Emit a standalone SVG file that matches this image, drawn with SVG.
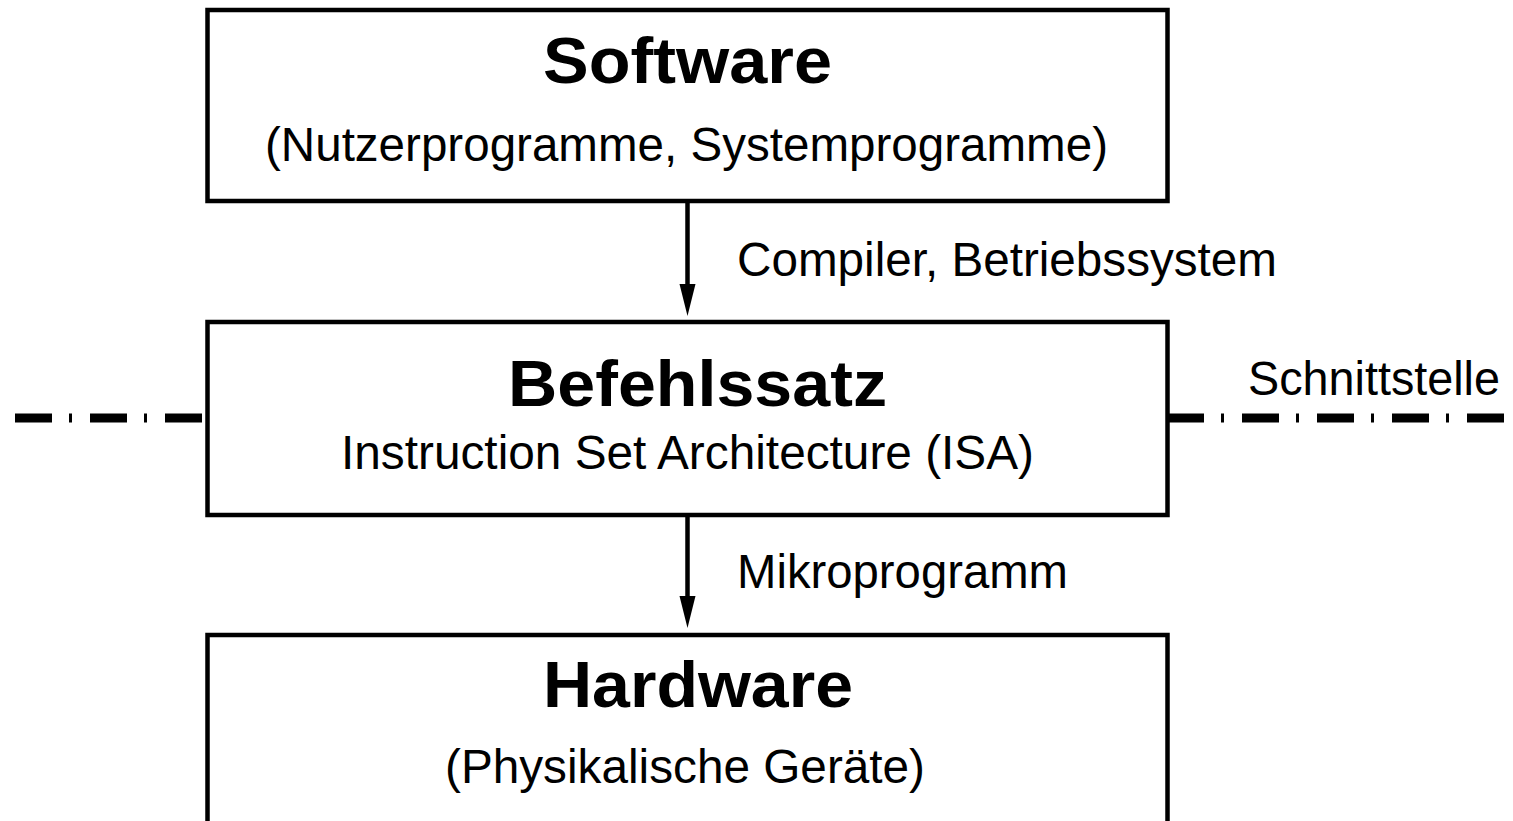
<svg xmlns="http://www.w3.org/2000/svg" width="1513" height="821" viewBox="0 0 1513 821">
<defs>
<style>
.box{fill:#fff;stroke:#000;stroke-width:4.5}
.t{font-family:"Liberation Sans",Arial,sans-serif;fill:#000}
.b{font-weight:bold;font-size:65px}
.r{font-size:47.6px}
.c{text-anchor:middle}
.conn{stroke:#000;stroke-width:4.5;fill:none}
.head{fill:#000}
.iface{stroke:#000;stroke-width:9;fill:none;stroke-dasharray:37 17 3 18}
</style>
</defs>
<rect width="1513" height="821" fill="#fff"/>
<g id="interface">
<line class="iface" x1="15" y1="418" x2="207" y2="418"/>
<line class="iface" x1="1167" y1="418" x2="1513" y2="418"/>
<text class="t r" x="1248" y="395" textLength="252" lengthAdjust="spacingAndGlyphs">Schnittstelle</text>
</g>
<g id="connectors">
<line class="conn" x1="687.5" y1="202" x2="687.5" y2="286"/>
<path class="head" d="M679.5,284 L695.5,284 L687.5,316 Z"/>
<text class="t r" x="737" y="276" textLength="540" lengthAdjust="spacingAndGlyphs">Compiler, Betriebssystem</text>
<line class="conn" x1="687.5" y1="515" x2="687.5" y2="598"/>
<path class="head" d="M679.5,596 L695.5,596 L687.5,628 Z"/>
<text class="t r" x="737" y="588" textLength="331" lengthAdjust="spacingAndGlyphs">Mikroprogramm</text>
</g>
<g id="software">
<rect class="box" x="207.5" y="10" width="960" height="191"/>
<text class="t b c" x="687.5" y="83" textLength="289" lengthAdjust="spacingAndGlyphs">Software</text>
<text class="t r c" x="686.5" y="161" textLength="843" lengthAdjust="spacingAndGlyphs">(Nutzerprogramme, Systemprogramme)</text>
</g>
<g id="befehlssatz">
<rect class="box" x="207.5" y="322" width="960" height="193"/>
<text class="t b c" x="697.5" y="406" textLength="379" lengthAdjust="spacingAndGlyphs">Befehlssatz</text>
<text class="t r c" x="687.5" y="469" textLength="693" lengthAdjust="spacingAndGlyphs">Instruction Set Architecture (ISA)</text>
</g>
<g id="hardware">
<rect class="box" x="207.5" y="635" width="960" height="200"/>
<text class="t b c" x="698" y="707" textLength="310" lengthAdjust="spacingAndGlyphs">Hardware</text>
<text class="t r c" x="685" y="783" textLength="480" lengthAdjust="spacingAndGlyphs">(Physikalische Geräte)</text>
</g>
</svg>
